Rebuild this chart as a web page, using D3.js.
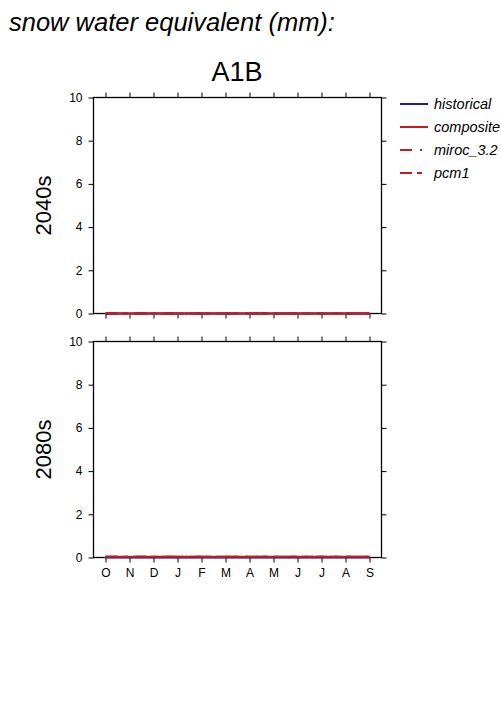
<!DOCTYPE html>
<html lang="en">
<head>
    <meta charset="utf-8">
    <title>snow water equivalent</title>
    <script src="https://d3js.org/d3.v7.min.js"></script>
    <style>
        body { margin: 0; background: #fff; }
        text { font-family: "Liberation Sans", Arial, sans-serif; }
    </style>
</head>
<body>
    <script>
        const months = ['O', 'N', 'D', 'J', 'F', 'M', 'A', 'M', 'J', 'J', 'A', 'S']
        const yTicks = [0, 2, 4, 6, 8, 10]
        const periods = ['2040s', '2080s']

        // snow water equivalent (mm) per month, Oct..Sep
        const historical = [0, 0, 0, 0, 0, 0, 0, 0, 0, 0, 0, 0]
        const composite2040 = [0, 0, 0, 0, 0, 0, 0, 0, 0, 0, 0, 0]
        const miroc2040 = [0, 0, 0, 0, 0, 0, 0, 0, 0, 0, 0, 0]
        const pcm2040 = [0, 0, 0, 0, 0, 0, 0, 0, 0, 0, 0, 0]
        const composite2080 = [0.03, 0.03, 0.03, 0.03, 0.03, 0.03, 0.03, 0.03, 0.03, 0.03, 0.03, 0.03]
        const miroc2080 = [0.03, 0.03, 0.03, 0.03, 0.03, 0.03, 0.03, 0.03, 0.03, 0.03, 0.03, 0.03]
        const pcm2080 = [0.03, 0.03, 0.03, 0.03, 0.03, 0.03, 0.03, 0.03, 0.03, 0.03, 0.03, 0.03]

        const legendNames = ['historical', 'composite', 'miroc_3.2', 'pcm1']

        const blue = '#1a1ab4'
        const red = '#cc1a1a'
        const styles = [
            { color: blue, dash: null },
            { color: red, dash: null },
            { color: red, dash: '12,8,2,8' },
            { color: red, dash: '12,5,5,6' }
        ]

        const panelSeries = [
            [historical, composite2040, miroc2040, pcm2040],
            [historical, composite2080, miroc2080, pcm2080]
        ]
        // model runs first, then historical, composite last on top
        const drawOrder = [2, 3, 0, 1]

        const svg = d3.select('body').append('svg')
            .attr('width', 501)
            .attr('height', 709)

        svg.append('text')
            .attr('x', 9).attr('y', 31)
            .attr('font-size', 25.5).attr('font-style', 'italic')
            .text('snow water equivalent (mm):')

        svg.append('text')
            .attr('x', 237).attr('y', 81)
            .attr('text-anchor', 'middle')
            .attr('font-size', 27)
            .text('A1B')

        const left = 93.5, right = 381.5
        const x = d3.scaleLinear().domain([-0.5, 11.5]).range([left, right])
        const tops = [97.5, 341.5]
        const ph = 216

        tops.forEach(function (top, p) {
            const y = d3.scaleLinear().domain([0, 10]).range([top + ph, top])
            const g = svg.append('g')

            // ticks and labels
            const yl = d3.axisLeft(y).tickValues(yTicks).tickSize(5).tickPadding(6)
            const yr = d3.axisRight(y).tickValues(yTicks).tickSize(5).tickFormat('')
            const xb = d3.axisBottom(x).tickValues(d3.range(12)).tickSize(5)
                .tickFormat(function (d) { return p === 1 ? months[d] : '' }).tickPadding(6)
            const xt = d3.axisTop(x).tickValues(d3.range(12)).tickSize(5).tickFormat('')

            g.append('g').attr('transform', 'translate(' + left + ',0)').call(yl)
            g.append('g').attr('transform', 'translate(' + right + ',0)').call(yr)
            g.append('g').attr('transform', 'translate(0,' + (top + ph) + ')').call(xb)
            g.append('g').attr('transform', 'translate(0,' + top + ')').call(xt)
            g.selectAll('.domain').remove()
            g.selectAll('.tick text').attr('font-size', 12).attr('fill', '#000')
                .style('font-family', '"Liberation Sans", Arial, sans-serif')

            g.append('rect')
                .attr('x', left).attr('y', top)
                .attr('width', right - left).attr('height', ph)
                .attr('fill', 'none').attr('stroke', '#000').attr('stroke-width', 1.3)

            const line = d3.line()
                .x(function (d, i) { return x(i) })
                .y(function (d) { return y(d) })

            drawOrder.forEach(function (i) {
                g.append('path')
                    .datum(panelSeries[p][i])
                    .attr('d', line)
                    .attr('fill', 'none')
                    .attr('stroke', styles[i].color)
                    .attr('stroke-width', 2)
                    .attr('stroke-dasharray', styles[i].dash)
            })

            svg.append('text')
                .attr('transform', 'translate(51,' + (top + ph / 2) + ') rotate(-90)')
                .attr('text-anchor', 'middle')
                .attr('font-size', 22)
                .text(periods[p])
        })

        // legend
        const lg = svg.append('g')
        legendNames.forEach(function (name, i) {
            const ly = 104 + i * 23
            lg.append('line')
                .attr('x1', 400).attr('x2', 428)
                .attr('y1', ly).attr('y2', ly)
                .attr('stroke', styles[i].color)
                .attr('stroke-width', 2)
                .attr('stroke-dasharray', styles[i].dash)
            lg.append('text')
                .attr('x', 434).attr('y', ly + 5)
                .attr('font-size', 14.5).attr('font-style', 'italic')
                .text(name)
        })
    </script>
</body>
</html>
